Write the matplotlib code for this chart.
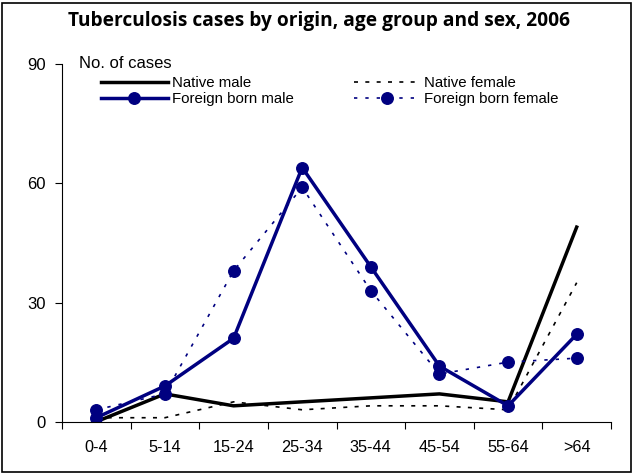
import matplotlib
matplotlib.use("Agg")
import matplotlib.pyplot as plt
import matplotlib.transforms as mtransforms
from matplotlib.patches import Rectangle

categories = ["0-4", "5-14", "15-24", "25-34", "35-44", "45-54", "55-64", ">64"]
native_male = [0, 7, 4, 5, 6, 7, 5, 49]
native_female = [1, 1, 5, 3, 4, 4, 3, 35]
foreign_male = [1, 9, 21, 64, 39, 14, 4, 22]
foreign_female = [3, 7, 38, 59, 33, 12, 15, 16]
yticks = [0, 30, 60, 90]

plt.rcParams['font.family'] = ['Liberation Sans', 'DejaVu Sans']
W, H = 634, 474
fig = plt.figure(figsize=(W / 100, H / 100), dpi=100)
pix = mtransforms.Affine2D().scale(1, -1).translate(0, H)  # pixel coords from top-left

fig.patches.append(Rectangle((2 / W, 2 / H), 629 / W, 469 / H, transform=fig.transFigure,
                             fill=False, edgecolor='black', linewidth=1.2))
title = fig.text(319, 26, "Tuberculosis cases by origin, age group and sex, 2006",
                 transform=pix, ha='center', va='baseline', fontsize=13.8, fontweight='bold',
                 family=['Open Sans', 'DejaVu Sans'])

ax = fig.add_axes([62 / W, 1 - 421.7 / H, (611 - 62) / W, (421.7 - 64.3) / H])
x = list(range(len(categories)))
navy = '#000080'
l_nm, = ax.plot(x, native_male, color='black', lw=2.5, label='Native male')
l_nf, = ax.plot(x, native_female, color='black', lw=1.2, dashes=(2.4, 4.4), label='Native female')
l_fm, = ax.plot(x, foreign_male, color=navy, lw=2.5, marker='o', markersize=8.3, label='Foreign born male')
l_ff, = ax.plot(x, foreign_female, color=navy, lw=1.2, dashes=(2.0, 4.8), marker='o', markersize=8.3,
                label='Foreign born female')

ax.set_xlim(-0.5, len(categories) - 0.5)
ax.set_ylim(0, 90)
ax.set_yticks(yticks)
ax.set_xticks([i - 0.5 for i in range(len(categories) + 1)], minor=False)
ax.set_xticklabels([''] * (len(categories) + 1))
ax.set_xticks(x, minor=True)
ax.set_xticklabels(categories, minor=True)
ax.tick_params(axis='x', which='minor', length=0, pad=13, labelsize=11.7)
ax.tick_params(axis='x', which='major', length=5, direction='out', width=0.8)
ax.tick_params(axis='y', length=5, direction='out', width=0.8, labelsize=12, pad=6.5)
for s in ['top', 'right']:
    ax.spines[s].set_visible(False)
for s in ['left', 'bottom']:
    ax.spines[s].set_linewidth(0.8)

fig.text(79, 68, "No. of cases", transform=pix, fontsize=12, va='baseline', ha='left')

leg = ax.legend([l_nm, l_fm, l_nf, l_ff],
                ['Native male', 'Foreign born male', 'Native female', 'Foreign born female'],
                ncol=2, loc='upper left', bbox_to_anchor=(101 / W, 1 - 76 / H),
                bbox_transform=fig.transFigure, frameon=False, fontsize=10.8,
                handlelength=4.45, handletextpad=0.27, columnspacing=4.0,
                labelspacing=0.15, borderaxespad=0, borderpad=0)
fig.savefig("out.png", dpi=100)
